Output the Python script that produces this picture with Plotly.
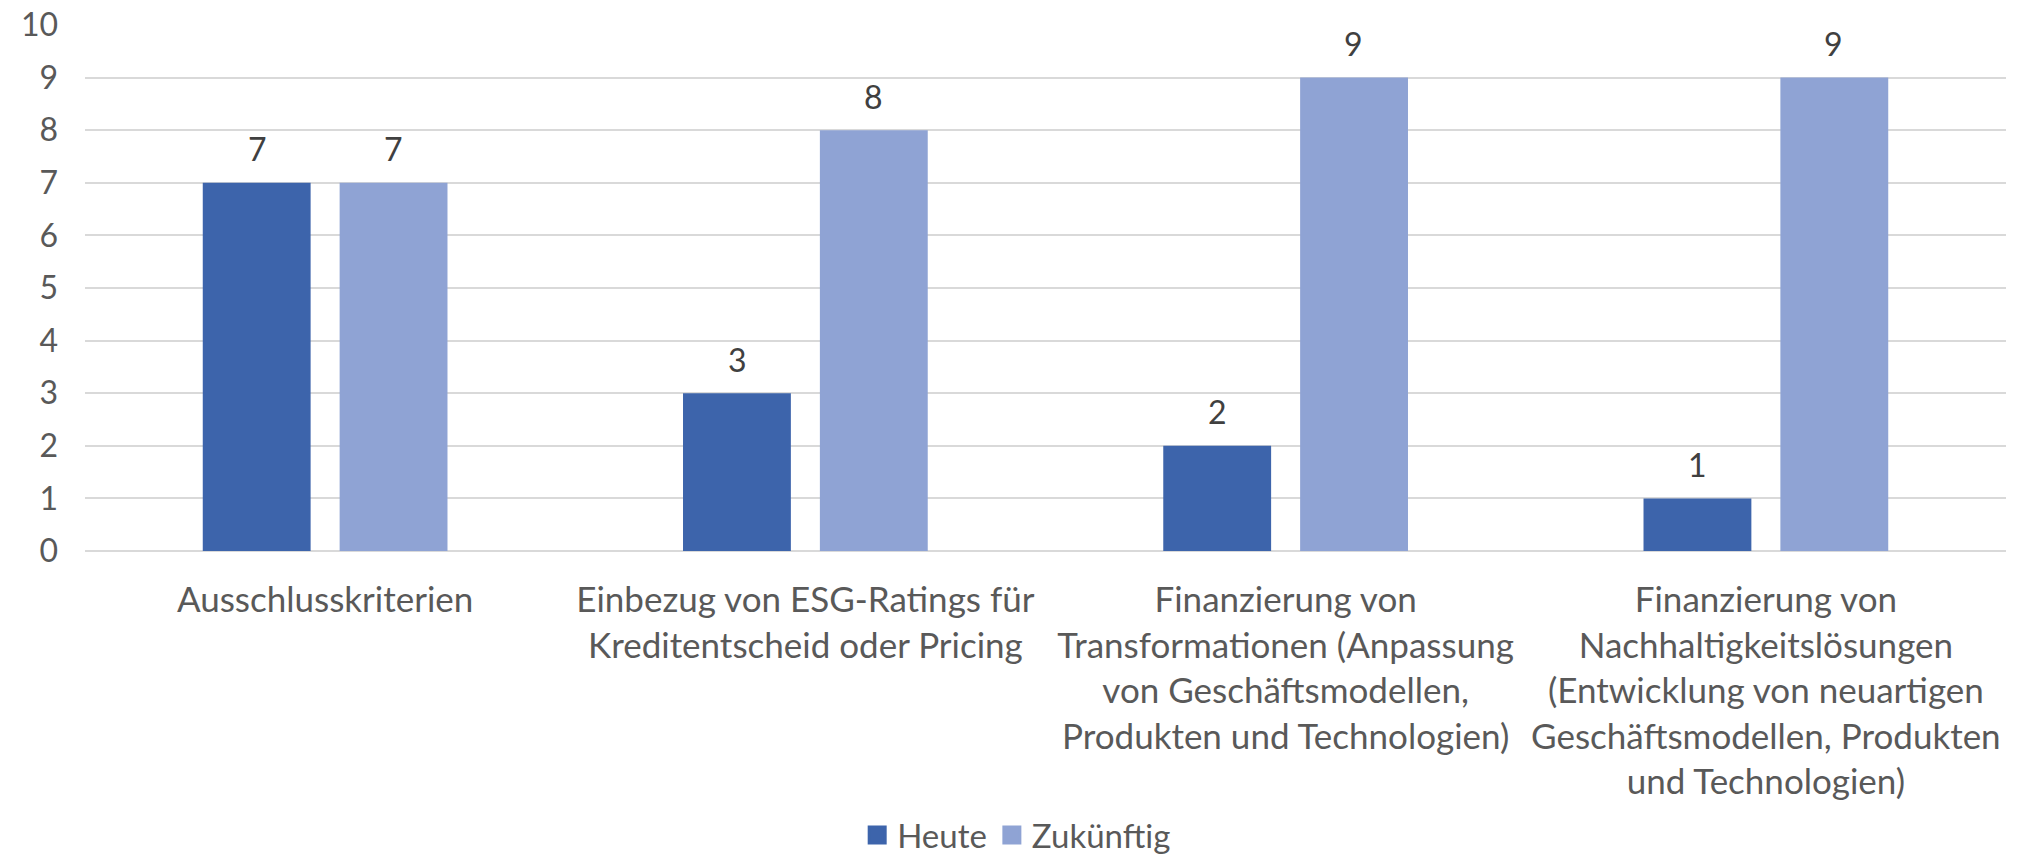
import plotly.graph_objects as go

categories = [
    "Ausschlusskriterien",
    "Einbezug von ESG-Ratings für<br>Kreditentscheid oder Pricing",
    "Finanzierung von<br>Transformationen (Anpassung<br>von Geschäftsmodellen,<br>Produkten und Technologien)",
    "Finanzierung von<br>Nachhaltigkeitslösungen<br>(Entwicklung von neuartigen<br>Geschäftsmodellen, Produkten<br>und Technologien)",
]
heute = [7, 3, 2, 1]
zukuenftig = [7, 8, 9, 9]
y_ticks = list(range(0, 11))

FONT = "Lato"
TXT = "#595959"
C_HEUTE = "#3D64AB"
C_ZUK = "#8FA3D4"

fig = go.Figure()
for name, vals, col in [("Heute", heute, C_HEUTE), ("Zukünftig", zukuenftig, C_ZUK)]:
    fig.add_trace(go.Bar(
        name=name, x=categories, y=vals,
        marker=dict(color=col, line=dict(width=0)),
        showlegend=False, hoverinfo="x+y",
    ))
# legend entries with larger square swatches
for name, col in [("Heute", C_HEUTE), ("Zukünftig", C_ZUK)]:
    fig.add_trace(go.Scatter(
        name=name, x=[None], y=[None], mode="markers",
        marker=dict(symbol="square", size=16, color=col, line=dict(color=col, width=3)),
        showlegend=True,
    ))

# data labels above bars
annotations = []
for vals, dx in [(heute, -68), (zukuenftig, 68)]:
    for cat, v in zip(categories, vals):
        annotations.append(dict(
            x=cat, y=v, xref="x", yref="y", text=str(v), showarrow=False,
            xshift=dx, yshift=34, yanchor="middle",
            font=dict(family=FONT, size=32, color="#404040"),
        ))

fig.update_layout(
    width=2017, height=866,
    margin=dict(l=85, r=11, t=25, b=315, autoexpand=False),
    paper_bgcolor="white", plot_bgcolor="white",
    barmode="group", bargap=0.43, bargroupgap=0.212,
    font=dict(family=FONT, size=32, color=TXT),
    showlegend=True,
    legend=dict(
        orientation="h", x=0.485, xanchor="center", y=-0.54, yanchor="middle",
        font=dict(family=FONT, size=33, color=TXT),
        itemsizing="trace", itemwidth=30, tracegroupgap=0,
    ),
    annotations=annotations,
)
fig.update_xaxes(
    showline=False, showgrid=False, ticks="",
    tickfont=dict(family=FONT, size=35, color=TXT),
    tickangle=0, automargin=False, ticklabelstandoff=25,
)
fig.update_yaxes(
    range=[0, 10], tickvals=y_ticks, showgrid=True, gridcolor="#D9D9D9", gridwidth=1.5,
    zeroline=True, zerolinecolor="#D9D9D9", zerolinewidth=1.5,
    showline=False, ticks="", ticklabelstandoff=26,
    tickfont=dict(family=FONT, size=32, color=TXT), automargin=False,
)

fig.write_html(
    "out.html",
    config={"displayModeBar": False},
    post_script="document.body.style.margin='0px';document.body.style.overflow='hidden';",
)
